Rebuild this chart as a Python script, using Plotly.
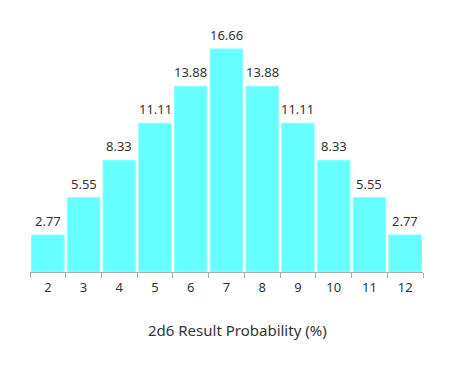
import plotly.graph_objects as go

categories = ["2", "3", "4", "5", "6", "7", "8", "9", "10", "11", "12"]
values = [2.77, 5.55, 8.33, 11.11, 13.88, 16.66, 13.88, 11.11, 8.33, 5.55, 2.77]
labels = [f"{v:.2f}" for v in values]
x_title = "2d6 Result Probability (%)"

fig = go.Figure(go.Bar(
    x=categories, y=values,
    marker=dict(color="#66FFFF", line=dict(color="#8FFFFF", width=1)),
    hoverinfo="x+y",
))
for i, (v, t) in enumerate(zip(values, labels)):
    fig.add_annotation(x=i, y=v, text=t, showarrow=False, yanchor="bottom",
                       yshift=3, font=dict(size=13, color="#333333", family="Noto Sans"))

fig.add_annotation(x=0.528, y=-0.2407, xref="paper", yref="paper", text=x_title,
                   showarrow=False, xanchor="center", yanchor="middle",
                   font=dict(size=15, color="#333333", family="Noto Sans"))

fig.update_layout(
    width=444, height=379,
    margin=dict(l=22, r=29, t=23, b=115),
    plot_bgcolor="white", paper_bgcolor="white",
    bargap=0.09,
    showlegend=False,
    font=dict(family="Noto Sans", color="#333333"),
    xaxis=dict(
        type="category", showline=True, linecolor="#aaaaaa", linewidth=1,
        ticks="outside", tickson="boundaries", ticklen=5, tickcolor="#aaaaaa",
        tickfont=dict(size=13, color="#333333"), ticklabelstandoff=3,
        showgrid=False, fixedrange=True, range=[-0.5, 10.5],
    ),
    yaxis=dict(range=[0, 18], visible=False, fixedrange=True),
)
fig.write_html("out.html")
